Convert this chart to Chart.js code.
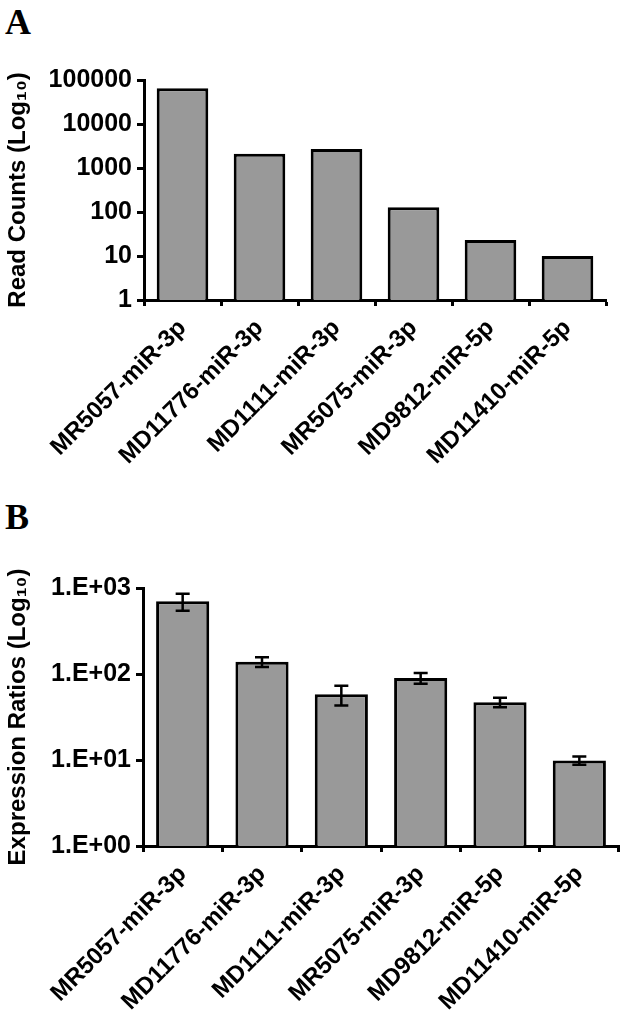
<!DOCTYPE html>
<html>
<head>
<meta charset="utf-8">
<script src="https://cdn.jsdelivr.net/npm/chart.js"></script>
<style>
  body { margin: 0; background: #fff; }
  #wrap { position: relative; width: 625px; height: 1018px; }
  canvas { position: absolute; left: 0; }
  .panel { position: absolute; left: 5px; font: bold 36px 'Liberation Serif', 'Times New Roman', serif; color: #000; }
</style>
</head>
<body>
<div id="wrap">
  <div class="panel" style="top:1px">A</div>
  <canvas id="chartA" width="625" height="490" style="top:0"></canvas>
  <div class="panel" style="top:496px">B</div>
  <canvas id="chartB" width="625" height="528" style="top:490px"></canvas>
</div>
<script>
const categories = ['MR5057-miR-3p', 'MD11776-miR-3p', 'MD1111-miR-3p', 'MR5075-miR-3p', 'MD9812-miR-5p', 'MD11410-miR-5p'];

// panel A: read counts
const readCounts = [65000, 2100, 2700, 128, 23, 10];
const tickValuesA = [1, 10, 100, 1000, 10000, 100000];
const tickLabelsA = ['1', '10', '100', '1000', '10000', '100000'];

// panel B: expression ratios with error
const exprRatios = [700, 139, 58, 90, 47, 9.9];
const exprErrors = [155, 18, 15, 13, 6, 1.1];
const tickValuesB = [1, 10, 100, 1000];
const tickLabelsB = ['1.E+00', '1.E+01', '1.E+02', '1.E+03'];

const FONT = "'Liberation Sans', Arial, sans-serif";

function makeOptions(opts) {
  return {
    responsive: false,
    animation: false,
    layout: { padding: { top: opts.top, right: opts.right, left: 4, bottom: 0 } },
    plugins: { legend: { display: false }, tooltip: { enabled: false } },
    scales: {
      x: {
        grid: { offset: true, drawOnChartArea: false, tickLength: 6, tickColor: '#000', tickWidth: 3 },
        border: { display: true, color: '#000', width: 3 },
        ticks: {
          autoSkip: false, maxRotation: 45, minRotation: 45, padding: 8,
          color: '#000', font: { family: FONT, size: 24, weight: 'bold' }
        },
        afterFit: s => { s.height = opts.xHeight; }
      },
      y: {
        type: 'logarithmic',
        min: opts.min, max: opts.max,
        grid: { drawOnChartArea: false, tickLength: 7, tickColor: '#000', tickWidth: 3 },
        border: { display: true, color: '#000', width: 3 },
        title: {
          display: true, text: opts.title, color: '#000', padding: { top: 0, bottom: 0 },
          font: { family: FONT, size: 24, weight: 'bold' }
        },
        ticks: {
          padding: 5, color: '#000', font: { family: FONT, size: 25, weight: 'bold' },
          callback: v => opts.labels[opts.values.indexOf(v)]
        },
        afterBuildTicks: s => { s.ticks = opts.values.map(v => ({ value: v })); },
        afterFit: s => { s.width = opts.yWidth; }
      }
    }
  };
}

const barStyle = {
  backgroundColor: '#999999',
  borderColor: '#000',
  borderWidth: 3,
  barPercentage: 0.67,
  categoryPercentage: 1
};

new Chart(document.getElementById('chartA'), {
  type: 'bar',
  data: { labels: categories, datasets: [Object.assign({ data: readCounts }, barStyle)] },
  options: makeOptions({
    top: 80, right: 19, xHeight: 190, yWidth: 140, min: 1, max: 100000,
    title: 'Read Counts (Log\u2081\u2080)', values: tickValuesA, labels: tickLabelsA
  })
});

const errorBars = {
  id: 'errorBars',
  afterDatasetsDraw(chart) {
    const meta = chart.getDatasetMeta(0);
    const y = chart.scales.y;
    const ctx = chart.ctx;
    ctx.save();
    ctx.strokeStyle = '#000';
    ctx.lineWidth = 2.5;
    meta.data.forEach((bar, i) => {
      const top = y.getPixelForValue(exprRatios[i] + exprErrors[i]);
      const bot = y.getPixelForValue(exprRatios[i] - exprErrors[i]);
      ctx.beginPath();
      ctx.moveTo(bar.x, top); ctx.lineTo(bar.x, bot);
      ctx.moveTo(bar.x - 7, top); ctx.lineTo(bar.x + 7, top);
      ctx.moveTo(bar.x - 7, bot); ctx.lineTo(bar.x + 7, bot);
      ctx.stroke();
    });
    ctx.restore();
  }
};

new Chart(document.getElementById('chartB'), {
  type: 'bar',
  data: { labels: categories, datasets: [Object.assign({ data: exprRatios }, barStyle)] },
  options: makeOptions({
    top: 98, right: 6, xHeight: 172, yWidth: 139, min: 1, max: 1000,
    title: 'Expression Ratios (Log\u2081\u2080)', values: tickValuesB, labels: tickLabelsB
  }),
  plugins: [errorBars]
});
</script>
</body>
</html>
